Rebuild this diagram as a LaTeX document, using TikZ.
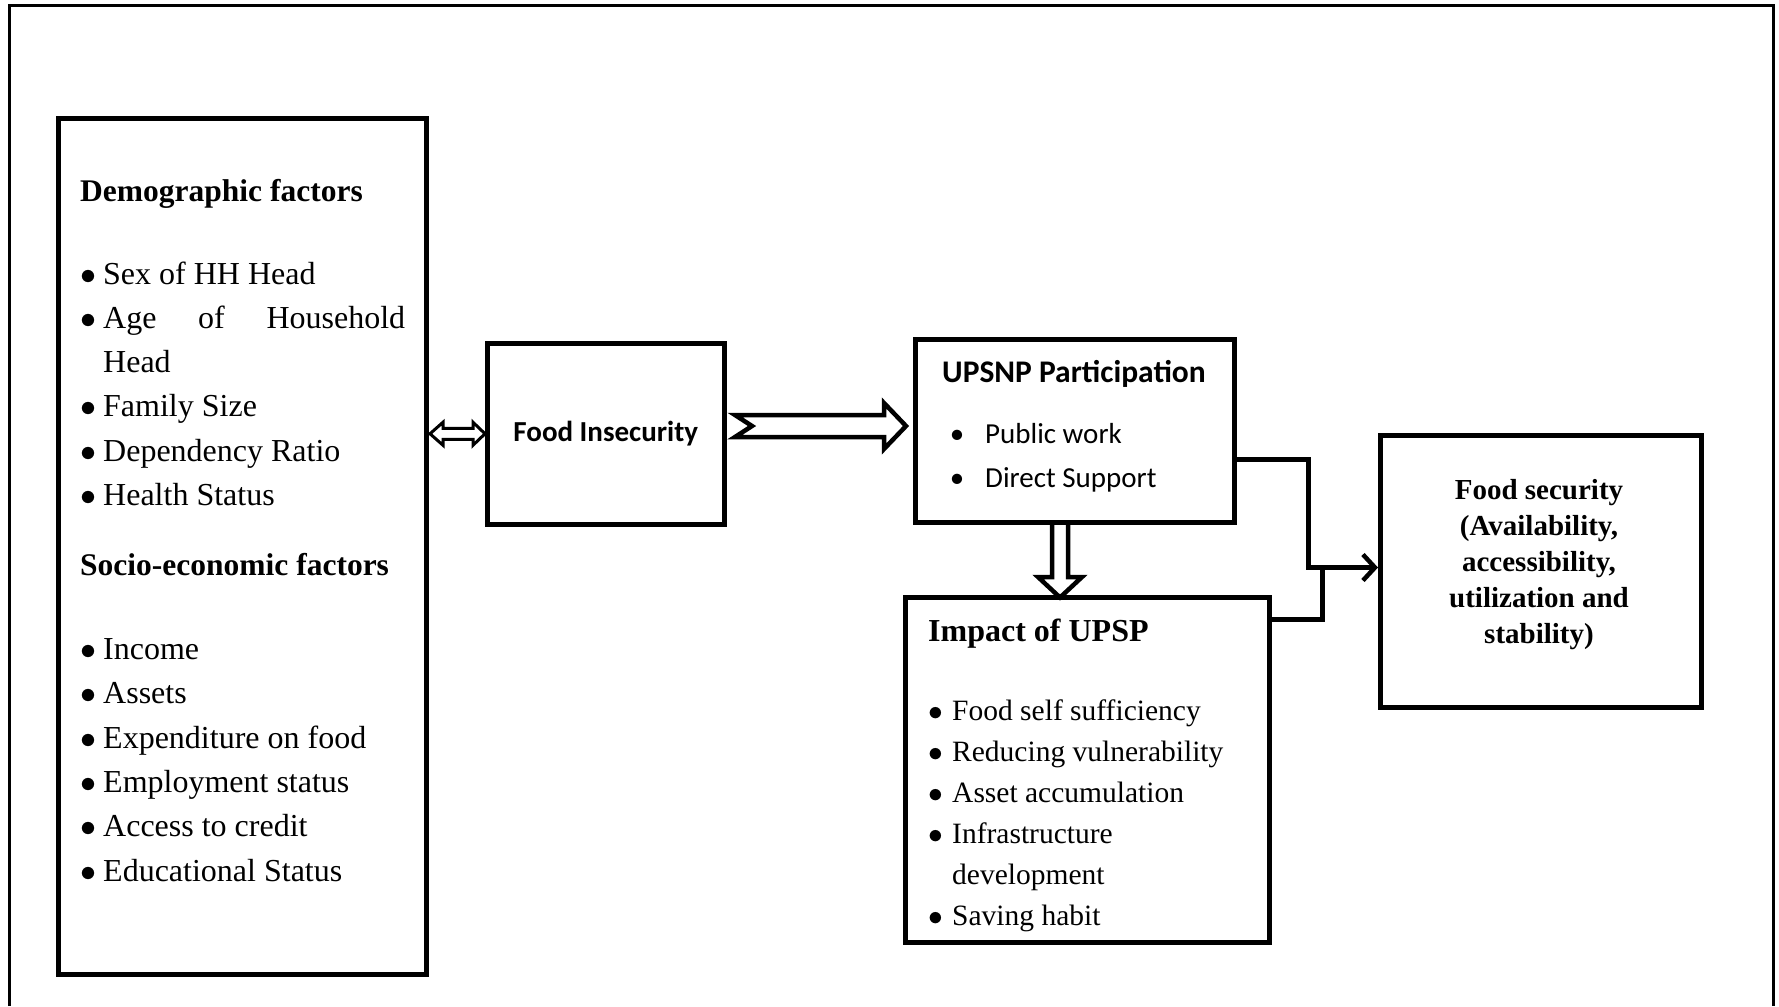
\documentclass[tikz,border=0pt]{standalone}
\usepackage{fix-cm}
\usepackage{fontspec}
\setmainfont{Liberation Serif}
\newfontfamily\calibri{Carlito}
\usetikzlibrary{calc,positioning,arrows.meta}

\newcommand{\bitem}[1]{\makebox[#1][l]{$\bullet$}}

\begin{document}
\begin{tikzpicture}[x=1pt,y=-1pt,
  box/.style={draw,line width=5pt,inner sep=0pt},
  txt/.style={anchor=base west,inner sep=0pt},
  conn/.style={line width=4.5pt},
  hollow/.style={line width=4.5pt,line join=miter}]
  \useasboundingbox (0,0) rectangle (1779,1006);
  % outer frame
  \draw[line width=3pt] (9.5,1006) -- (9.5,5.5) -- (1773.5,5.5) -- (1773.5,1006);

  % boxes
  \node[box,minimum width=368,minimum height=856] (fac) at (242.5,546.5) {};
  \node[box,minimum width=236.5,minimum height=181.5,font=\calibri\bfseries\fontsize{29}{35}\selectfont] (fi) at (605.75,433.75) {Food Insecurity};
  \node[box,minimum width=319,minimum height=183] (up) at (1075,431) {};
  \node[box,minimum width=364,minimum height=345] (imp) at (1087.5,770) {};
  \node[box,minimum width=321,minimum height=272] (fs) at (1541,571.5) {};

  % box texts
  \node[txt,font=\fontsize{32}{44.3}\selectfont] (fact) at (80,201) {\parbox[t]{340pt}{%
    {\bfseries\fontsize{31.5}{44.3}\selectfont Demographic factors}\\[38.7pt]
    \bitem{23pt}Sex of HH Head\\
    \bitem{23pt}\makebox[302pt][s]{Age\hfill of\hfill Household}\\
    \hspace*{23pt}Head\\
    \bitem{23pt}Family Size\\
    \bitem{23pt}Dependency Ratio\\
    \bitem{23pt}Health Status\\[25.7pt]
    {\bfseries\fontsize{31.5}{44.3}\selectfont Socio-economic factors}\\[39.7pt]
    \bitem{23pt}Income\\
    \bitem{23pt}Assets\\
    \bitem{23pt}Expenditure on food\\
    \bitem{23pt}Employment status\\
    \bitem{23pt}Access to credit\\
    \bitem{23pt}Educational Status}};
  \node[txt,font=\calibri\fontsize{29}{44}\selectfont] (upt) at (942,382) {\parbox[t]{300pt}{%
    {\bfseries\fontsize{31.5}{44}\selectfont UPSNP Participation}\\[17pt]
    \makebox[30pt]{\textbullet}\hspace{13pt}Public work\\
    \makebox[30pt]{\textbullet}\hspace{13pt}Direct Support}};
  \node[txt,font=\fontsize{29.5}{41}\selectfont] (impt) at (928,641) {\parbox[t]{340pt}{%
    {\bfseries\fontsize{32}{41}\selectfont Impact of UPSP}\\[38.5pt]
    \bitem{24pt}Food self sufficiency\\
    \bitem{24pt}Reducing vulnerability\\
    \bitem{24pt}Asset accumulation\\
    \bitem{24pt}Infrastructure\\
    \hspace*{24pt}development\\
    \bitem{24pt}Saving habit}};
  \node[anchor=base,inner sep=0pt,font=\bfseries\fontsize{29}{36.2}\selectfont] (fst) at (1539,499) {\parbox[t]{300pt}{\centering
    Food security\\(Availability,\\accessibility,\\utilization and\\stability)}};

  % hollow arrows
  \draw[line width=3pt,line join=miter,shift={(fac.east |- fi.west)}]
    (1,0) -- (14,-11.5) -- (14,-5.5) -- (44,-5.5) -- (44,-11.5) -- (56,0)
    -- (44,11.5) -- (44,5.5) -- (14,5.5) -- (14,11.5) -- cycle;
  \draw[hollow,shift={(fi.east)}]
    (8.5,-18.75) -- (25.5,-7.75) -- (8.5,3.25) -- (157.5,3.25) -- (157.5,15.25)
    -- (179.5,-7.75) -- (157.5,-30.75) -- (157.5,-18.75) -- cycle;
  \draw[hollow,shift={(up.south)}]
    (-23,-2) -- (-23,52) -- (-37,52) -- (-15,72.5) -- (7,52) -- (-7,52) -- (-7,-2);

  % connectors
  \coordinate (jn) at (1308.5,567.5);
  \coordinate (jm) at (1322.5,567.5);
  \draw[conn,-{Straight Barb[length=12pt,width=26pt]}] ($(up.east)+(0,28.5)$) -| (jn) -- (jn -| fs.west);
  \draw[conn] ($(imp.north east)+(0,24.5)$) -| (jm);
\end{tikzpicture}
\end{document}
